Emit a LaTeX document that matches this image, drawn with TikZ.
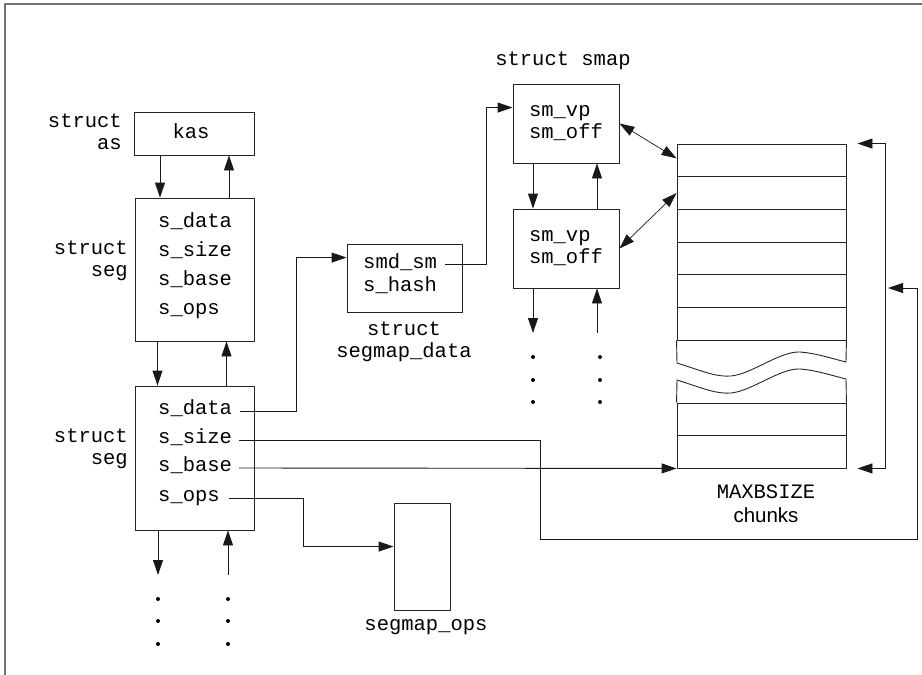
\documentclass[tikz,border=0pt]{standalone}
\usepackage{fontspec}
\setmainfont{Liberation Mono}
\setmonofont{Liberation Mono}
\setsansfont{Liberation Sans}
\usetikzlibrary{arrows.meta}
\begin{document}
\begin{tikzpicture}[x=1pt,y=-1pt,
  every node/.style={font=\ttfamily\fontsize{20.5}{22}\selectfont, inner sep=0pt},
  box/.style={draw=black!85, line width=0.9pt},
  row/.style={draw=black!85, line width=0.9pt, minimum width=169pt},
  fld/.style={anchor=base west},
  lbl/.style={align=right, anchor=east},
  ln/.style={line width=0.9pt, draw=black!90},
  arr/.style={ln, -{Triangle[length=15pt,width=10pt]}},
  darr/.style={line width=0.7pt, draw=black!90, {Triangle[length=15pt,width=10pt]}-{Triangle[length=15pt,width=10pt]}},
  dot/.style={fill=black}
]
\useasboundingbox (0,0) rectangle (922,675);
% frame
\draw[black!55, line width=1.5pt] (922,4) -- (5,4) -- (5,675);

% struct as
\node[box, minimum width=120pt, minimum height=43pt] (kas) at (194.5,133.5) {};
\node (kast) at (191,131) {kas};
\node[lbl] (aslbl) at (122,132) {struct\\as};

% first seg
\node[box, minimum width=119pt, minimum height=143pt] (seg1) at (194.5,269.5) {};
\node[fld] (sdA) at (158,227) {s\_data};
\node[fld] (ssA) at (158,256) {s\_size};
\node[fld] (sbA) at (158,285) {s\_base};
\node[fld] (soA) at (158,314) {s\_ops};
\node[lbl] (seglblA) at (128,261) {struct\\seg};

% second seg
\node[box, minimum width=119pt, minimum height=144pt] (seg2) at (194.5,458) {};
\node[fld] (sdB) at (158,414) {s\_data};
\node[fld] (ssB) at (158,443) {s\_size};
\node[fld] (sbB) at (158,471) {s\_base};
\node[fld] (soB) at (158,501) {s\_ops};
\node[lbl] (seglblB) at (128,449) {struct\\seg};

% segmap_data
\node[box, minimum width=115pt, minimum height=68pt] (smd) at (404.5,278) {};
\node[fld] (smdsm) at (363,268.5) {smd\_sm};
\node[fld] (shash) at (363,291) {s\_hash};
\node[align=center] (smdlbl) at (404,342) {struct\\segmap\_data};

% segmap_ops
\node[box, minimum width=56pt, minimum height=107pt] (segops) at (422,556.5) {};
\node (segopslbl) at (426,627) {segmap\_ops};

% smap
\node (smaplbl) at (563,61) {struct smap};
\node[box, minimum width=106pt, minimum height=79pt, align=left] (smap1) at (566,123.5) {sm\_vp\\sm\_off};
\node[box, minimum width=106pt, minimum height=79pt, align=left] (smap2) at (566,248.5) {sm\_vp\\sm\_off};

% chunks
\node[row, minimum height=32.67pt] (r1) at (761.5,160.33) {};
\node[row, minimum height=32.67pt] (r2) at (761.5,193) {};
\node[row, minimum height=32.67pt] (r3) at (761.5,225.67) {};
\node[row, minimum height=32.67pt] (r4) at (761.5,258.33) {};
\node[row, minimum height=32.67pt] (r5) at (761.5,291) {};
\node[row, minimum height=32.67pt] (r6) at (761.5,323.67) {};
\node[row, minimum height=32.5pt] (r7) at (761.5,419.25) {};
\node[row, minimum height=32.5pt] (r8) at (761.5,451.75) {};
\draw[ln, draw=black!85] (r6.south west) -- (677,363)
  .. controls (705,372) and (716,377) .. (731,376)
  .. controls (752,374) and (780,351) .. (800,352)
  .. controls (815,353) and (830,358) .. (846,362) -- (r6.south east);
\draw[ln, draw=black!85] (r7.north west) -- (677,380)
  .. controls (705,389) and (716,394) .. (731,393)
  .. controls (752,391) and (780,368) .. (800,369)
  .. controls (815,370) and (830,375) .. (846,379) -- (r7.north east);
\node (maxb) at (766,492) {MAXBSIZE};
\node[font=\sffamily\fontsize{20.5}{22}\selectfont] (chunkslbl) at (766,515) {chunks};

% bracket on the right of chunks
\draw[ln, {Triangle[length=15pt,width=10pt]}-{Triangle[length=15pt,width=10pt]}]
  ([xshift=11pt]r1.north east) -- ++(28,0) |- ([xshift=11pt]r8.south east);
\coordinate (bmid) at (885,288);

% kas <-> seg1
\draw[arr] ([xshift=-34.5pt]kas.south) -- ([xshift=-34.5pt]seg1.north);
\draw[arr] ([xshift=34.5pt]seg1.north) -- ([xshift=34.5pt]kas.south);
% seg1 <-> seg2
\draw[arr] ([xshift=-37pt]seg1.south) -- ([xshift=-37pt]seg2.north);
\draw[arr] ([xshift=32pt]seg2.north) -- ([xshift=32pt]seg1.south);
% below seg2
\coordinate (sgd) at (158,575);
\coordinate (sgu) at (228,575);
\draw[arr] ([xshift=-36.5pt]seg2.south) -- (sgd);
\draw[arr] (sgu) -- ([xshift=33.5pt]seg2.south);
\foreach \yy in {599,621,644} {
  \fill[dot] (158,\yy) circle (2pt);
  \fill[dot] (228,\yy) circle (2pt);
}

% smap1 <-> smap2
\draw[arr] ([xshift=-33pt]smap1.south) -- ([xshift=-33pt]smap2.north);
\draw[arr] ([xshift=31pt]smap2.north) -- ([xshift=31pt]smap1.south);
\coordinate (smd1) at (533,333);
\coordinate (smu1) at (597,333);
\draw[arr] ([xshift=-33pt]smap2.south) -- (smd1);
\draw[arr] (smu1) -- ([xshift=31pt]smap2.south);
\foreach \yy in {357,380,402} {
  \fill[dot] (533,\yy) circle (2pt);
  \fill[dot] (600,\yy) circle (2pt);
}

% smap <-> chunks
\draw[darr] (smap1.east) -- ([yshift=2pt]r1.west);
\draw[darr] (smap2.east) -- (r2.west);

% seg2 fields
\draw[arr] ([shift={(8,-3)}]sdB.base east) -| ([shift={(-50,14)}]smd.north west) -- ([shift={(0,14)}]smd.north west);
\draw[arr] ([shift={(8,-4)}]smdsm.base east) -| ([shift={(-26,24)}]smap1.north west) -- ([shift={(0,24)}]smap1.north west);
\draw[arr, shorten >=3pt] ([shift={(7,-3)}]ssB.base east) -| (540,539) -- (917,539) |- (bmid);
\draw[arr] ([shift={(7,-3)}]sbB.base east) -- (r8.south west);
\draw[arr] ([shift={(9,-3)}]soB.base east) -| ([shift={(-90,44)}]segops.north west) -- ([shift={(0,44)}]segops.north west);
\end{tikzpicture}
\end{document}
